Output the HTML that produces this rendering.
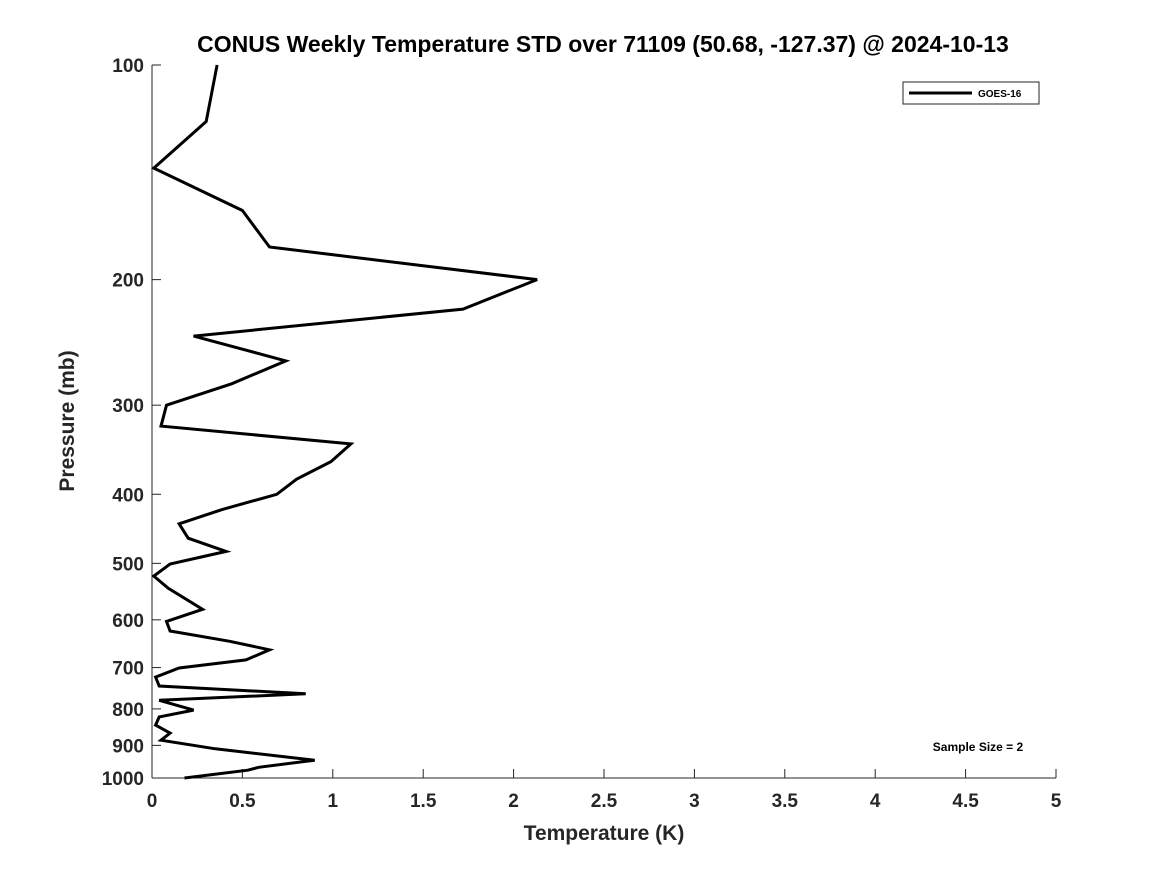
<!DOCTYPE html>
<html><head><meta charset="utf-8"><style>
body{margin:0;background:#fff;}
svg text{font-family:"Liberation Sans","DejaVu Sans",sans-serif;font-weight:bold;fill:#262626;}
</style></head><body>
<svg width="1167" height="875" xmlns="http://www.w3.org/2000/svg">
<text x="603" y="52" text-anchor="middle" font-size="23" fill="#000" style="fill:#000">CONUS Weekly Temperature STD over 71109 (50.68, -127.37) @ 2024-10-13</text>
<g id="axes"></g>
<polyline id="line" fill="none" stroke="#000" stroke-width="3" stroke-linejoin="miter"/>
<text x="74" y="421" text-anchor="middle" font-size="21" transform="rotate(-90 74 421)">Pressure (mb)</text>
<text x="604" y="840" text-anchor="middle" font-size="21">Temperature (K)</text>
<g>
<rect x="903" y="82" width="136" height="22" fill="#fff" stroke="#262626" stroke-width="1"/>
<line x1="909" y1="93" x2="972" y2="93" stroke="#000" stroke-width="3"/>
<text x="978" y="97" font-size="10" fill="#000" style="fill:#000">GOES-16</text>
</g>
<text x="978" y="751" text-anchor="middle" font-size="12" fill="#000" style="fill:#000">Sample Size = 2</text>
</svg>
<script>
const temps=[0.36,0.30,0.01,0.50,0.65,2.13,1.72,0.23,0.74,0.44,0.08,0.05,1.10,0.99,0.80,0.69,0.39,0.15,0.20,0.41,0.10,0.01,0.09,0.28,0.08,0.10,0.43,0.65,0.52,0.15,0.02,0.04,0.85,0.04,0.23,0.04,0.02,0.10,0.05,0.35,0.90,0.59,0.53,0.18];
const pressures=[100,120,139.5,160,180,200,220,240,260,280,300,321,340,360,381,400,420,440,461,481,501,521,542,580,603,622,643,661,683,701,722,743,762,778,803,821,843,865,885,910,944,966,975,1000];
const xTicks=[0,0.5,1,1.5,2,2.5,3,3.5,4,4.5,5];
const xTickLabels=["0","0.5","1","1.5","2","2.5","3","3.5","4","4.5","5"];
const yTicks=[100,200,300,400,500,600,700,800,900,1000];
const X0=152,X1=1056,Y0=65,Y1=778;
function xs(v){return X0+(v-0)/(5-0)*(X1-X0);}
function ys(p){return Y0+Math.log10(p/100)/Math.log10(10)*(Y1-Y0);}
const NS="http://www.w3.org/2000/svg";
const ax=document.getElementById('axes');
function mk(t,a){const e=document.createElementNS(NS,t);for(const k in a)e.setAttribute(k,a[k]);return e;}
const yl=mk('line',{x1:X0,y1:Y0,x2:X0,y2:Y1,stroke:'#262626','stroke-width':1});


ax.appendChild(yl);
const xl=mk('line',{x1:X0,y1:Y1,x2:X1,y2:Y1,stroke:'#262626','stroke-width':1});


ax.appendChild(xl);
xTicks.forEach((v,i)=>{
  const x=xs(v);
  const t=mk('line',{x1:x,y1:Y1,x2:x,y2:Y1-9,stroke:'#262626'});
  
  
  ax.appendChild(t);
  const l=mk('text',{x:x,y:Y1+29,'text-anchor':'middle','font-size':19});
  l.textContent=xTickLabels[i];
  
  
  ax.appendChild(l);
});
yTicks.forEach(p=>{
  const y=ys(p);
  const t=mk('line',{x1:X0,y1:y,x2:X0+9,y2:y,stroke:'#262626'});
  
  
  ax.appendChild(t);
  const l=mk('text',{x:X0-8,y:y+7,'text-anchor':'end','font-size':19});
  l.textContent=String(p);
  
  
  ax.appendChild(l);
});
document.getElementById('line').setAttribute('points',temps.map((t,i)=>xs(t).toFixed(1)+','+ys(pressures[i]).toFixed(1)).join(' '));
</script>
</body></html>
